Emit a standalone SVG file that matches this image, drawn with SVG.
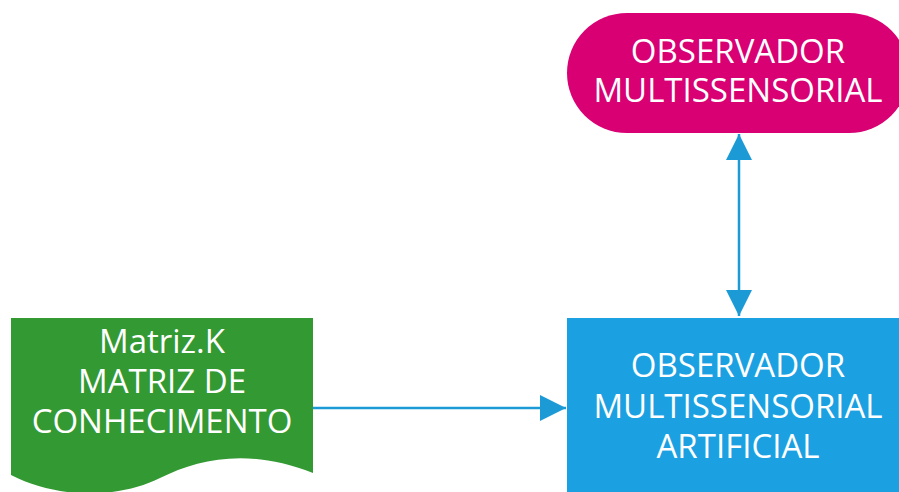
<svg xmlns="http://www.w3.org/2000/svg" width="899" height="492" viewBox="0 0 899 492">
<style>
.t{font-family:"Open Sans","Noto Sans","DejaVu Sans",sans-serif;font-size:33px;fill:#ffffff;text-anchor:middle}
.c{stroke:#1B9AD6;stroke-width:2.5;fill:none}
</style>
<defs>
<marker id="ah" viewBox="0 0 26 26" refX="26" refY="13" markerWidth="26" markerHeight="26" markerUnits="userSpaceOnUse" orient="auto-start-reverse">
<path d="M0,0 L26,13 L0,26 Z" fill="#1B9AD6"/>
</marker>
</defs>
<rect width="899" height="492" fill="#ffffff"/>
<g id="observador">
<rect x="567" y="13" width="342" height="120" rx="60" ry="60" fill="#D80073"/>
<text class="t" x="738" y="63">OBSERVADOR</text>
<text class="t" x="738" y="102">MULTISSENSORIAL</text>
</g>
<g id="artificial">
<rect x="567" y="318" width="342" height="190" fill="#1BA1E2"/>
<text class="t" x="738" y="377">OBSERVADOR</text>
<text class="t" x="738" y="418">MULTISSENSORIAL</text>
<text class="t" x="738" y="458">ARTIFICIAL</text>
</g>
<g id="matriz">
<path d="M11,318 H313 V473 C250,448 200,458 160,478 C120,498 60,500 11,475 Z" fill="#339933"/>
<text class="t" x="162" y="353">Matriz.K</text>
<text class="t" x="162" y="393">MATRIZ DE</text>
<text class="t" x="162" y="433">CONHECIMENTO</text>
</g>
<g id="connectors">
<line class="c" x1="739" y1="134" x2="739" y2="316" marker-start="url(#ah)" marker-end="url(#ah)"/>
<line class="c" x1="313" y1="408" x2="566" y2="408" marker-end="url(#ah)"/>
</g>
</svg>
